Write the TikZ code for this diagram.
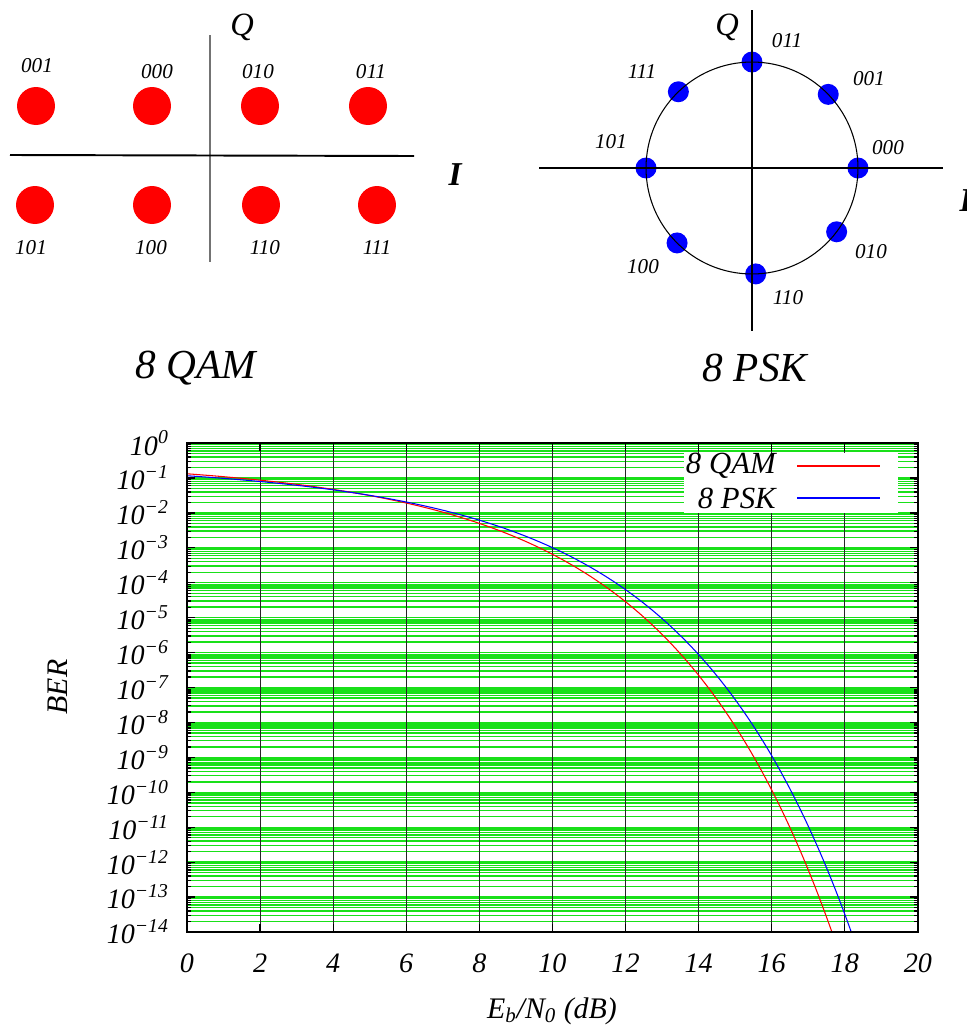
\documentclass[tikz,border=0pt]{standalone}
\usepackage{fontspec}
\setmainfont{Liberation Serif}
\usepackage{tikz}
\usetikzlibrary{positioning}

\definecolor{gridgreen}{rgb}{0.1,0.88,0.1}

\tikzset{
  qamdot/.style={circle, fill=red, minimum size=0.76cm, inner sep=0pt},
  pskdot/.style={circle, fill=blue, minimum size=0.42cm, inner sep=0pt},
  bitlab/.style={font=\fontsize{12}{14}\selectfont\itshape, inner sep=0pt},
  axname/.style={font=\fontsize{17}{20}\selectfont\itshape, inner sep=0pt},
  qname/.style={font=\fontsize{18.5}{22}\selectfont\itshape, inner sep=0pt},
  iname/.style={font=\fontsize{19}{22}\selectfont\bfseries\itshape, inner sep=0pt},
  modname/.style={font=\fontsize{23.5}{28}\selectfont\itshape, inner sep=0pt},
  ticklab/.style={font=\fontsize{16}{19}\selectfont\itshape, inner sep=0pt},
  legtext/.style={font=\fontsize{17.5}{20}\selectfont\itshape, inner sep=0pt},
  gridline/.style={gridgreen, line width=0.8pt},
  dbline/.style={black!85, line width=0.6pt},
  tickmark/.style={black, line width=0.7pt},
  qamcurve/.style={red, line width=0.6pt},
  pskcurve/.style={blue, line width=0.6pt},
  declare function={lq(\t)=-\t*\t/4.60517-log10(0.661*\t+0.339*sqrt(\t*\t+5.51))-0.39909;}
}

\begin{document}
\begin{tikzpicture}[x=0.02cm, y=-0.02cm]
  \useasboundingbox (0,0) rectangle (967,1025);

  % 8 QAM constellation
  \draw[black!55, line width=0.6pt] (210,35) -- (210,262);
  \draw[line width=1.1pt] (10,155) -- (414,156);
  \foreach \bits/\px/\py/\lx/\ly in {001/36/106/37/66, 000/152/106/157/72, 010/260/106/258/72, 011/368/106/371/72,
      101/35/205/31/248, 100/152/205/151/248, 110/261/205/265/248, 111/377/205/377/248}{
    \node[qamdot] (qam\bits) at (\px,\py) {};
    \node[bitlab] (qamlab\bits) at (\lx,\ly) {\bits};
  }
  \node[qname] (qamQ) at (242,27) {Q};
  \node[iname] (qamI) at (455,175) {I};
  \node[modname] (qamname) at (196,368) {8 QAM};

  % 8 PSK constellation
  \foreach \bits/\ang/\lx/\ly in {011/90/787/41, 001/44/869/79, 000/0/888/148, 010/-37/871/252,
      110/-88/788/298, 100/-135/643/267, 101/180/611/142, 111/134/642/72}{
    \node[pskdot] (psk\bits) at ([shift={(\ang:2.12cm)}]752,168) {};
    \node[bitlab] (psklab\bits) at (\lx,\ly) {\bits};
  }
  \draw[line width=0.6pt] (752,168) circle[radius=2.12cm];
  \draw[line width=0.6pt] (752,10) -- (752,331);
  \draw[line width=1.1pt] (539,168) -- (943,168);
  \node[qname] (pskQ) at (727,27) {Q};
  \node[iname] (pskI) at (966,201) {I};
  \node[modname] (pskname) at (755,368) {8 PSK};

  % BER plot, x in dB, y in decades above 10^-14
  \begin{scope}[shift={(187,932)}, x=0.731cm, y=0.6986cm]
    \foreach \k in {0,...,13}{
      \foreach \m in {2,...,9}{
        \draw[gridline] (0,{\k+log10(\m)}) -- (20,{\k+log10(\m)});
        \draw[tickmark] (0,{\k+log10(\m)}) -- ++(0.08cm,0);
        \draw[tickmark] (20,{\k+log10(\m)}) -- ++(-0.08cm,0);
      }
      \draw[gridline] (0,\k+1) -- (20,\k+1);
      \draw[tickmark] (0,\k) -- ++(0.16cm,0);
      \draw[tickmark] (20,\k) -- ++(-0.16cm,0);
    }
    \foreach \d in {2,4,...,18}{
      \draw[dbline] (\d,0) -- (\d,14);
      \draw[tickmark] (\d,14) -- ++(0,-0.16cm);
      \draw[tickmark] (\d,0) -- ++(0,0.16cm);
    }

    % curves
    \begin{scope}
      \clip (0,0) rectangle (20,14);
      \draw[qamcurve] plot[domain=0:18, samples=160, smooth] (\x,{14+log10(0.8333)+lq(sqrt(pow(10,\x/10)))});
      \draw[pskcurve] plot[domain=0:18.4, samples=160, smooth] (\x,{14+log10(0.6667)+lq(sqrt(6*pow(10,\x/10))*sin(22.5))});
    \end{scope}

    \draw[line width=1.1pt] (0,0) rectangle (20,14);

    % tick labels
    \node[ticklab, anchor=east] (ylab0) at (-0.49,14) {10\textsuperscript{0}};
    \foreach \k in {1,...,14}
      \node[ticklab, anchor=east] (ylab\k) at (-0.49,14-\k) {10\textsuperscript{−\k}};
    \foreach \d in {0,2,...,20}
      \node[ticklab] (xlab\d) at (\d,-0.89) {\d};
  \end{scope}

  \node[axname, rotate=90] (bername) at (58,687) {BER};
  \node[axname, anchor=base] (ebname) at (552,1018) {E\textsubscript{b}/N\textsubscript{0} (dB)};

  % legend
  \node[fill=white, minimum width=4.28cm, minimum height=1.2cm, inner sep=0pt] (legend) at (791,483) {};
  \node[legtext, anchor=east] (legqam) at (776,466) {8 QAM};
  \node[legtext, anchor=east] (legpsk) at (776,498) {8 PSK};
  \coordinate (qamA) at (797,466);
  \coordinate (qamB) at (880,466);
  \coordinate (pskA) at (797,498);
  \coordinate (pskB) at (880,498);
  \draw[qamcurve] (qamA) -- (qamB);
  \draw[pskcurve] (pskA) -- (pskB);
\end{tikzpicture}
\end{document}
